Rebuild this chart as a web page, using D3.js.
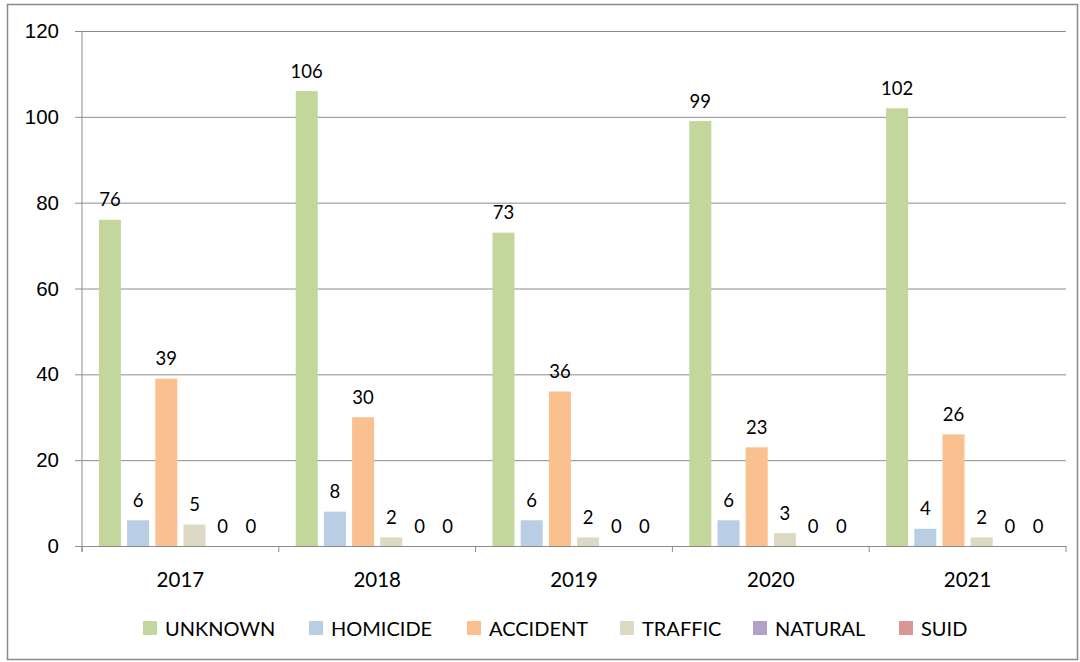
<!DOCTYPE html>
<html><head><meta charset="utf-8">
<script src="https://cdnjs.cloudflare.com/ajax/libs/d3/7.8.5/d3.min.js"></script>
<style>body{margin:0;background:#fff;}svg{display:block;font-family:Lato,"Open Sans",sans-serif;}</style>
</head><body>
<svg id="c" width="1080" height="662"></svg>
<script>
const years = ["2017","2018","2019","2020","2021"];
const seriesNames = ["UNKNOWN","HOMICIDE","ACCIDENT","TRAFFIC","NATURAL","SUID"];
const unknown  = [76,106,73,99,102];
const homicide = [6,8,6,6,4];
const accident = [39,30,36,23,26];
const traffic  = [5,2,2,3,2];
const natural  = [0,0,0,0,0];
const suid     = [0,0,0,0,0];
const yTicks = [0,20,40,60,80,100,120];
const colors = ["#c3d69b","#b9cde5","#fac090","#ddd9c4","#b3a2c7","#d99694"];

const values = [unknown,homicide,accident,traffic,natural,suid];
const svg = d3.select("#c");
const L=82, R=1066, T=31, B=546;

svg.append("rect").attr("x",7.5).attr("y",4.5).attr("width",1070).attr("height",655)
  .attr("fill","none").attr("stroke","#8a8a8a").attr("stroke-width",1.5);

const y = d3.scaleLinear().domain([0,120]).range([B,T]);
const x0 = d3.scaleBand().domain(years).range([L,R]).padding(0);
const x1 = d3.scaleBand().domain(seriesNames).range([0,x0.bandwidth()]).paddingInner(0.22).paddingOuter(0.6);

// gridlines + y ticks
const yAxis = d3.axisLeft(y).tickValues(yTicks).tickSize(-(R-L)).tickSizeOuter(0).tickPadding(23);
const gy = svg.append("g").attr("transform",`translate(${L},0)`).call(yAxis);
gy.select(".domain").remove();
gy.selectAll(".tick line").attr("stroke","#8c8c8c").attr("x1",-7);
gy.selectAll(".tick text").attr("font-size",20.5).attr("fill","#000");

// vertical axis line
svg.append("line").attr("x1",L).attr("x2",L).attr("y1",T).attr("y2",B+6).attr("stroke","#8c8c8c");

// category ticks
const bounds = years.map(d=>x0(d)).concat([R]);
svg.append("g").selectAll("line").data(bounds).join("line")
  .attr("x1",d=>d).attr("x2",d=>d).attr("y1",B).attr("y2",B+6).attr("stroke","#8c8c8c");

// x labels
svg.append("g").selectAll("text").data(years).join("text")
  .attr("x",d=>x0(d)+x0.bandwidth()/2).attr("y",587).attr("text-anchor","middle")
  .attr("font-size",20.5).attr("fill","#000").text(d=>d);

// bars
const data = [];
years.forEach((yr,i)=>seriesNames.forEach((s,j)=>data.push({yr,s,v:values[j][i],c:colors[j]})));
svg.append("g").selectAll("rect").data(data).join("rect")
  .attr("x",d=>x0(d.yr)+x1(d.s)).attr("width",x1.bandwidth())
  .attr("y",d=>y(d.v)).attr("height",d=>B-y(d.v)).attr("fill",d=>d.c);

svg.append("g").selectAll("text").data(data).join("text")
  .attr("x",d=>x0(d.yr)+x1(d.s)+x1.bandwidth()/2).attr("y",d=>y(d.v)-13.5)
  .attr("text-anchor","middle").attr("font-size",18.5).attr("fill","#000").text(d=>d.v);

// legend
const legendX = [143,309,467,620,753,899];
const lg = svg.append("g").selectAll("g").data(seriesNames).join("g")
  .attr("transform",(d,i)=>`translate(${legendX[i]},621)`);
lg.append("rect").attr("width",14).attr("height",14).attr("fill",(d,i)=>colors[i]);
lg.append("text").attr("x",22).attr("y",14.5).attr("font-size",20).attr("fill","#000").text(d=>d);
</script>
</body></html>
